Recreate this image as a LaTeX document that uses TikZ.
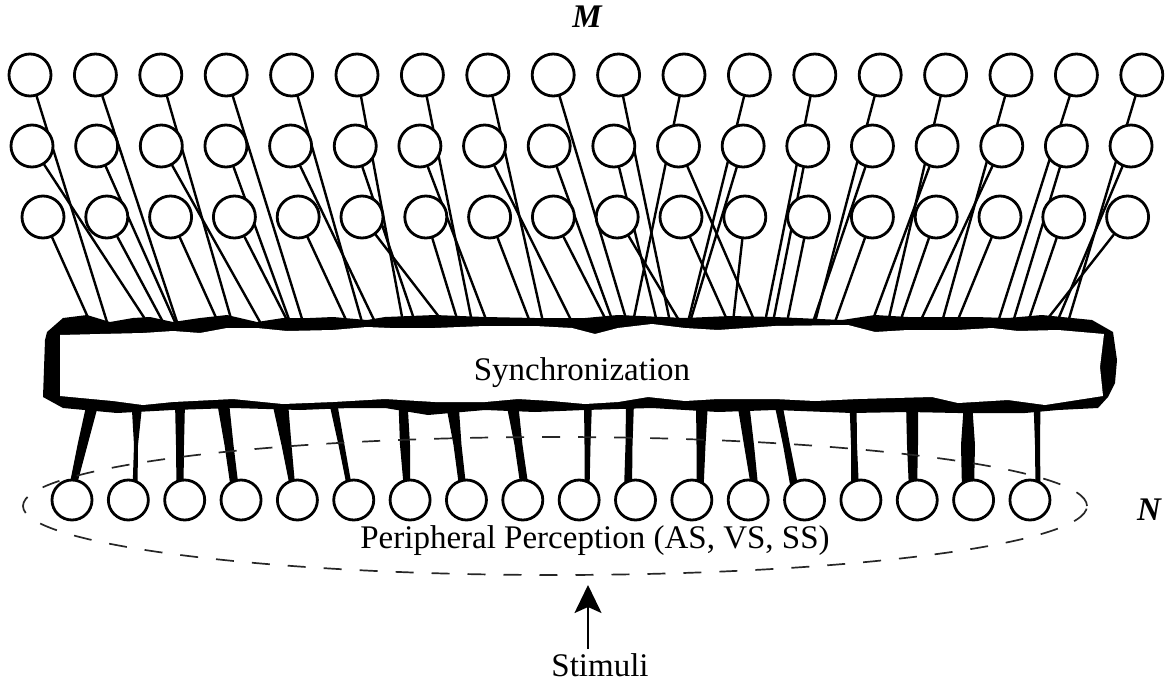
\documentclass[tikz,border=0pt]{standalone}
\usepackage{fontspec}
\setmainfont{Liberation Serif}
\usetikzlibrary{arrows.meta,backgrounds}
\begin{document}
\begin{tikzpicture}[x=1pt,y=-1pt,
  cir/.style={circle,draw=black,line width=2.8pt,fill=white,minimum size=40pt,inner sep=0pt},
  topcir/.style={cir,minimum size=42pt},
  link/.style={line width=2.4pt,line cap=round},
  lbl/.style={font=\fontsize{33}{36}\selectfont,anchor=base,inner sep=0pt},
  biglbl/.style={font=\fontsize{33}{36}\selectfont\bfseries\itshape,anchor=base,inner sep=0pt},
  stalk/.style={fill=black},
  halo/.style={draw=black!85,line width=1.7pt,dash pattern=on 18pt off 18pt}]
\useasboundingbox (0,0) rectangle (1165,683);

% --- upper circles (three rows of 18)
\foreach \i in {1,...,18}{
  \node[topcir] (r1c\i) at ({30+(\i-1)*65.4},75) {};
  \node[topcir] (r2c\i) at ({32+(\i-1)*64.65},146) {};
  \node[topcir] (r3c\i) at ({43+(\i-1)*63.8},217) {};
}

% --- connectors from upper circles to the synchronization bar
\begin{pgfonlayer}{background}
\foreach \e [count=\i] in {107,177,232,303,362,403,472,543,627,670,633,688,765,815,888,942,998,1068}{
  \coordinate (a1-\i) at (\e,322);
  \draw[link] (r1c\i) -- (a1-\i);
}
\foreach \e [count=\i] in {147,175,260,290,375,415,487,572,613,657,755,690,773,813,872,920,1013,1057}{
  \coordinate (a2-\i) at (\e,322);
  \draw[link] (r2c\i) -- (a2-\i);
}
\foreach \e [count=\i] in {90,163,218,288,347,443,458,530,607,680,728,733,787,835,900,957,1028,1045}{
  \coordinate (a3-\i) at (\e,322);
  \draw[link] (r3c\i) -- (a3-\i);
}
\end{pgfonlayer}

% --- stalks from bar to lower circles
\foreach \xt/\wt/\xb/\wb/\wm in {93/12/72/7/10, 137/11/135/5/4, 180/10/180/7/8,
  223/12/235/8/9, 280/16/293/5/10, 333/8/350/5/6, 403/9/407/6/10, 452/13/463/7/8,
  512/12/525/8/8, 588/8/587/5/6, 630/8/628/8/7, 702/12/700/7/9, 743/12/755/7/10,
  778/8/795/8/7, 853/7/855/8/6, 912/12/913/8/11, 968/8/968/12/14, 1037/7/1038/5/5}{
  \pgfmathsetmacro\xm{(\xt+\xb)/2}
  \fill[stalk] ({\xt-\wt/2},402) -- ({\xt+\wt/2},402) -- ({\xm+\wm/2},445)
    -- ({\xb+\wb/2},490) -- ({\xb-\wb/2},490) -- ({\xm-\wm/2},445) -- cycle;
}

% --- synchronization bar
\fill[black] (47,332) -- (63,318) -- (87,315) -- (110,322) -- (133,318) -- (150,317)
  -- (173,322) -- (200,318) -- (227,315) -- (257,322) -- (283,318) -- (310,318)
  -- (333,317) -- (367,320) -- (385,317) -- (435,315) -- (485,317) -- (535,318)
  -- (585,318) -- (618,315) -- (685,318) -- (730,316) -- (775,317) -- (842,320)
  -- (875,315) -- (908,317) -- (975,317) -- (1008,318) -- (1042,315) -- (1092,320)
  -- (1113,332) -- (1117,360) -- (1115,383) -- (1108,397) -- (1098,408) -- (1058,410)
  -- (1025,413) -- (958,413) -- (908,412) -- (852,413) -- (775,410) -- (718,412)
  -- (652,408) -- (585,410) -- (535,412) -- (485,410) -- (428,415) -- (385,408)
  -- (350,408) -- (300,410) -- (233,408) -- (173,410) -- (117,413) -- (63,408)
  -- (43,397) -- (45,340) -- cycle;
\fill[white] (60,335) -- (100,334) -- (143,333) -- (173,331) -- (200,333) -- (227,328)
  -- (257,328) -- (287,331) -- (333,330) -- (367,327) -- (390,328) -- (435,328)
  -- (485,326) -- (535,326) -- (572,328) -- (595,334) -- (618,328) -- (652,324)
  -- (685,328) -- (718,330) -- (775,326) -- (848,325) -- (875,332) -- (908,330)
  -- (958,330) -- (992,328) -- (1018,331) -- (1058,330) -- (1104,334) -- (1100,367)
  -- (1103,396) -- (1045,405) -- (1008,400) -- (958,403) -- (932,397) -- (858,399)
  -- (815,401) -- (775,399) -- (718,399) -- (685,401) -- (648,397) -- (618,402)
  -- (585,404) -- (552,401) -- (518,399) -- (485,402) -- (435,402) -- (385,399)
  -- (333,402) -- (283,404) -- (233,399) -- (173,402) -- (143,405) -- (113,401)
  -- (60,396) -- cycle;
\node[lbl] (sync) at (582,380) {Synchronization};

% --- lower circles
\foreach \i in {1,...,18}{
  \node[cir] (b\i) at ({72+(\i-1)*56.35},500) {};
}

% --- dashed region and labels
\draw[halo] (555,506) ellipse [x radius=532pt, y radius=69pt];
\node[lbl] (per) at (595,548) {Peripheral Perception (AS, VS, SS)};
\node[lbl] (stim) at (600,676) {Stimuli};
\coordinate (arrs) at (588,649);
\coordinate (arre) at (588,585);
\draw[line width=2pt,-{Stealth[length=28pt,width=27pt,inset=6pt]}] (arrs) -- (arre);
\node[biglbl] (M) at (587,27) {M};
\node[biglbl] (N) at (1149,520) {N};
\end{tikzpicture}
\end{document}
